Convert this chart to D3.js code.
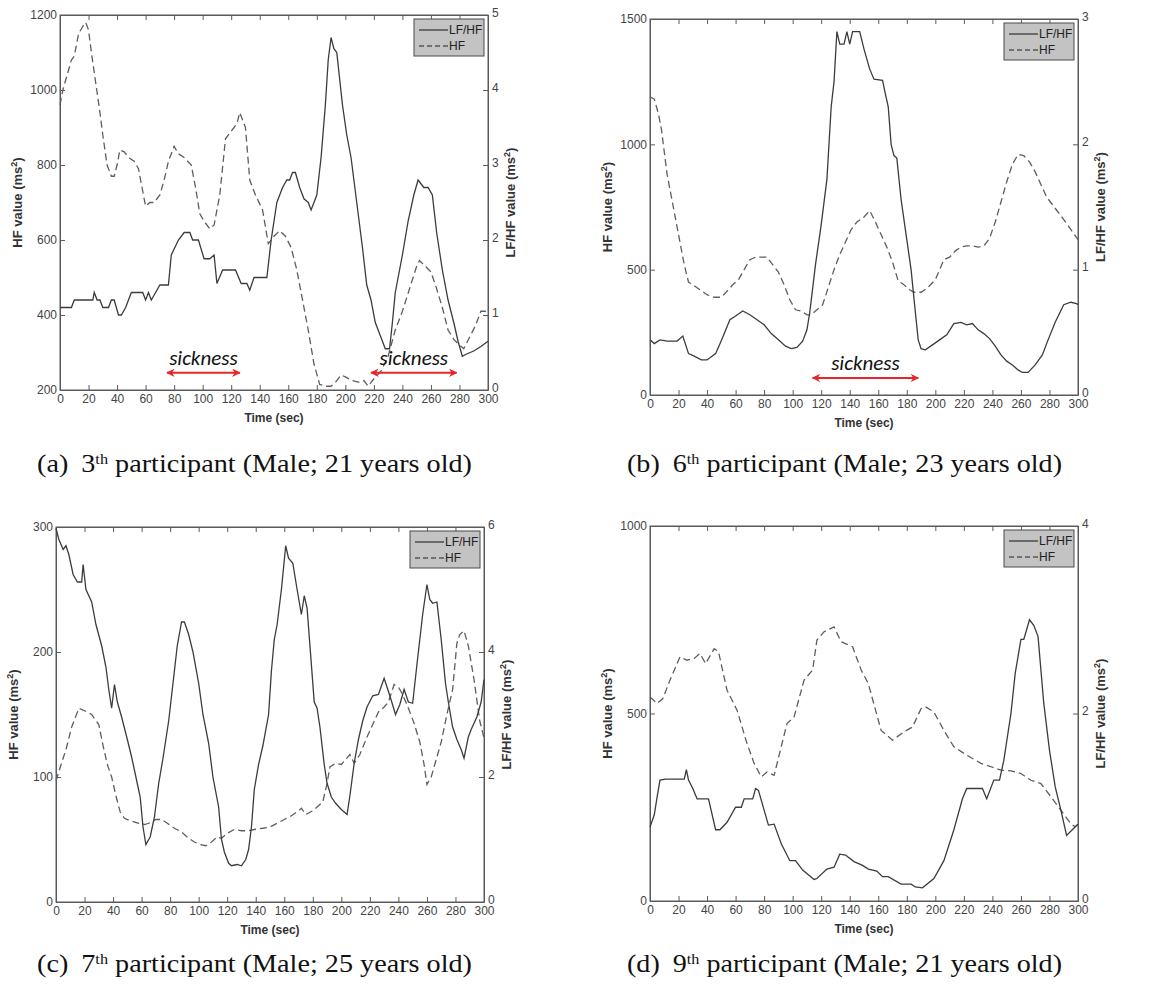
<!DOCTYPE html>
<html>
<head>
<meta charset="utf-8">
<script src="https://cdn.jsdelivr.net/npm/d3@7"></script>
<style>
  body { margin: 0; background: #fff; }
  svg { display: block; }
</style>
</head>
<body>
<div id="chart"></div>
<script>
// ---- data: [time (sec), value] ----
var timeTicks = [0, 20, 40, 60, 80, 100, 120, 140, 160, 180, 200, 220, 240, 260, 280, 300];

// (a) 3th participant
var hfA = [[0,960],[2,1000],[5,1040],[8,1080],[10,1090],[13,1150],[16,1170],[18,1180],[20,1160],[22,1100],[25,1020],[28,940],[30,880],[33,800],[36,770],[38,770],[40,800],[42,840],[45,835],[48,820],[52,810],[55,790],[58,730],[60,690],[63,700],[66,700],[70,720],[73,760],[76,810],[80,850],[83,830],[87,820],[92,800],[95,740],[98,670],[101,650],[105,630],[108,640],[112,720],[116,870],[120,890],[124,910],[126,940],[130,900],[133,760],[137,720],[142,680],[146,590],[150,610],[154,625],[158,610],[162,580],[166,520],[170,440],[174,360],[178,270],[182,215],[186,210],[190,210],[193,220],[197,240],[200,235],[205,225],[210,220],[213,225],[216,210],[220,230],[225,250],[230,290],[235,360],[240,410],[245,470],[250,530],[252,545],[256,530],[260,515],[264,470],[268,420],[272,360],[276,335],[280,320],[283,310],[287,340],[291,370],[295,410],[298,410],[300,405]];
var lfA = [[0,1.1],[8,1.1],[10,1.2],[23,1.2],[24,1.3],[26,1.2],[28,1.2],[30,1.1],[34,1.1],[36,1.2],[38,1.2],[41,1.0],[43,1.0],[46,1.1],[50,1.3],[58,1.3],[60,1.2],[62,1.3],[64,1.2],[67,1.3],[70,1.4],[76,1.4],[78,1.8],[83,2.0],[87,2.1],[91,2.1],[93,2.0],[97,2.0],[101,1.75],[105,1.75],[108,1.8],[110,1.42],[114,1.6],[123,1.6],[127,1.42],[131,1.42],[133,1.33],[136,1.5],[145,1.5],[148,2.0],[152,2.5],[156,2.7],[159,2.8],[161,2.8],[163,2.9],[165,2.9],[168,2.7],[171,2.55],[174,2.5],[176,2.4],[180,2.6],[183,3.1],[186,3.8],[188,4.4],[190,4.7],[192,4.55],[194,4.5],[198,3.8],[201,3.4],[204,3.1],[208,2.5],[212,1.9],[215,1.4],[218,1.2],[221,0.9],[225,0.7],[228,0.55],[231,0.55],[233,0.9],[235,1.3],[240,1.8],[244,2.25],[248,2.6],[251,2.8],[253,2.75],[255,2.7],[258,2.7],[261,2.6],[264,2.1],[268,1.6],[272,1.2],[276,0.9],[279,0.65],[282,0.45],[285,0.48],[290,0.52],[295,0.58],[300,0.65]];
var sicknessA = [[75, 126], [218, 278]];

// (b) 6th participant
var hfB = [[0,1190],[3,1180],[6,1120],[8,1060],[12,880],[16,760],[20,640],[24,520],[27,450],[30,440],[35,420],[40,400],[45,390],[50,390],[55,420],[58,440],[62,460],[66,500],[70,540],[74,550],[78,550],[82,550],[86,520],[90,490],[94,440],[98,380],[102,340],[106,335],[110,320],[113,320],[117,340],[121,360],[125,430],[129,500],[133,560],[137,610],[141,660],[145,690],[150,710],[154,735],[158,690],[162,640],[166,590],[170,530],[174,455],[178,440],[182,420],[185,410],[190,410],[194,425],[200,460],[206,540],[210,550],[214,575],[218,590],[222,595],[226,595],[230,590],[234,595],[238,625],[242,690],[246,770],[250,850],[254,920],[258,960],[262,955],[266,930],[270,890],[274,840],[278,790],[282,760],[286,730],[290,700],[295,660],[300,620]];
var lfB = [[0,0.44],[3,0.41],[7,0.44],[12,0.43],[19,0.43],[23,0.47],[27,0.33],[31,0.31],[36,0.28],[40,0.28],[46,0.33],[51,0.46],[56,0.6],[60,0.63],[65,0.67],[70,0.64],[75,0.6],[80,0.56],[85,0.49],[90,0.44],[95,0.39],[99,0.37],[103,0.38],[107,0.43],[110,0.52],[112,0.66],[116,1.04],[120,1.36],[124,1.72],[127,2.3],[129,2.5],[131,2.9],[133,2.8],[136,2.8],[138,2.9],[140,2.8],[142,2.9],[147,2.9],[150,2.76],[154,2.6],[157,2.52],[163,2.51],[165,2.4],[167,2.3],[169,2.0],[171,1.91],[173,1.89],[176,1.56],[180,1.24],[183,1.0],[186,0.66],[188,0.44],[190,0.37],[193,0.36],[198,0.4],[203,0.44],[208,0.48],[213,0.57],[218,0.58],[222,0.56],[226,0.57],[230,0.52],[234,0.49],[238,0.45],[242,0.39],[246,0.32],[250,0.27],[254,0.24],[258,0.2],[261,0.18],[265,0.18],[270,0.24],[275,0.32],[278,0.41],[284,0.58],[290,0.72],[295,0.74],[299,0.73],[300,0.72]];
var sicknessB = [[114, 188]];

// (c) 7th participant
var hfC = [[0,97],[3,108],[7,122],[11,140],[16,155],[20,153],[25,150],[30,142],[33,125],[36,110],[39,100],[42,85],[45,72],[48,67],[52,65],[58,63],[62,62],[65,63],[70,66],[74,66],[78,63],[83,59],[88,56],[93,51],[97,48],[101,46],[105,45],[109,48],[113,52],[116,51],[120,55],[125,58],[130,57],[135,57],[139,58],[145,59],[150,60],[155,63],[160,66],[165,69],[170,73],[172,75],[175,70],[180,73],[184,77],[187,80],[190,95],[192,108],[196,111],[200,110],[203,114],[206,118],[209,111],[213,118],[218,132],[222,142],[226,152],[230,156],[233,160],[237,174],[240,172],[242,168],[246,158],[251,143],[255,128],[258,110],[260,94],[263,100],[266,112],[270,128],[274,150],[278,170],[281,207],[283,214],[286,217],[289,205],[293,178],[297,145],[300,131]];
var lfC = [[0,5.98],[2,5.8],[5,5.64],[7,5.7],[9,5.56],[12,5.24],[15,5.12],[18,5.12],[19,5.4],[21,5.0],[25,4.8],[28,4.44],[32,4.1],[35,3.76],[37,3.4],[39,3.1],[41,3.48],[43,3.2],[46,2.96],[50,2.6],[53,2.32],[56,2.0],[59,1.68],[61,1.2],[63,0.92],[66,1.04],[69,1.36],[72,1.9],[75,2.3],[79,2.9],[82,3.5],[85,4.1],[88,4.48],[90,4.48],[93,4.28],[96,4.0],[100,3.5],[103,3.0],[107,2.54],[110,2.0],[114,1.52],[116,1.0],[118,0.8],[121,0.62],[123,0.58],[127,0.6],[130,0.58],[133,0.68],[135,0.84],[137,1.2],[139,1.8],[142,2.2],[145,2.5],[149,3.0],[151,3.7],[153,4.2],[155,4.44],[158,5.0],[161,5.7],[163,5.5],[166,5.42],[169,5.0],[172,4.6],[174,4.9],[176,4.7],[178,4.1],[181,3.2],[183,3.1],[185,2.8],[188,2.2],[190,1.9],[193,1.68],[196,1.58],[200,1.48],[204,1.4],[206,1.7],[209,2.22],[212,2.6],[215,2.9],[218,3.12],[222,3.3],[226,3.32],[230,3.58],[234,3.3],[238,3.0],[241,3.16],[244,3.4],[247,3.2],[250,3.18],[253,3.8],[257,4.6],[260,5.08],[262,4.84],[264,4.78],[267,4.8],[270,4.2],[273,3.5],[275,3.2],[278,2.8],[281,2.6],[284,2.44],[286,2.3],[289,2.64],[291,2.76],[295,2.96],[298,3.2],[300,3.56]];

// (d) 9th participant
var hfD = [[0,544],[5,527],[9,540],[14,589],[21,651],[26,642],[31,647],[35,660],[39,633],[45,673],[48,665],[54,562],[61,509],[68,420],[73,367],[78,331],[82,344],[87,335],[96,473],[101,491],[108,589],[114,616],[117,696],[122,718],[129,731],[134,691],[142,678],[148,616],[153,580],[162,455],[170,429],[178,451],[184,464],[190,513],[193,518],[199,504],[206,455],[213,411],[222,389],[232,367],[239,358],[246,349],[253,347],[260,340],[267,322],[274,313],[281,278],[288,242],[295,206],[298,198],[300,205]];
var lfD = [[0,0.79],[3,0.92],[5,1.11],[7,1.29],[11,1.3],[24,1.3],[25.5,1.4],[27,1.29],[30,1.2],[33,1.09],[41,1.09],[46,0.76],[49,0.76],[54,0.84],[60,1.0],[64,1.0],[66,1.09],[72,1.09],[74,1.2],[76,1.18],[80,0.97],[83,0.81],[87,0.82],[92,0.61],[98,0.43],[102,0.43],[107,0.33],[115,0.23],[117,0.24],[124,0.34],[129,0.36],[133,0.5],[137,0.49],[143,0.42],[149,0.38],[153,0.34],[159,0.32],[163,0.26],[167,0.26],[176,0.18],[183,0.18],[186,0.15],[191,0.14],[199,0.24],[206,0.43],[213,0.76],[219,1.09],[222,1.2],[233,1.2],[236,1.09],[241,1.29],[245,1.29],[248,1.5],[253,2.0],[256,2.43],[260,2.79],[262,2.79],[266,3.0],[269,2.94],[272,2.82],[276,2.11],[280,1.61],[284,1.22],[288,0.97],[292,0.7],[296,0.76],[300,0.82]];

var leftTicksA = [200, 400, 600, 800, 1000, 1200], rightTicksA = [0, 1, 2, 3, 4, 5];
var leftTicksB = [0, 500, 1000, 1500], rightTicksB = [0, 1, 2, 3];
var leftTicksC = [0, 100, 200, 300], rightTicksC = [0, 2, 4, 6];
var leftTicksD = [0, 500, 1000], rightTicksD = [0, 2, 4];

var captions = [
  ["(a)", "3", "th", " participant (Male; 21 years old)"],
  ["(b)", "6", "th", " participant (Male; 23 years old)"],
  ["(c)", "7", "th", " participant (Male; 25 years old)"],
  ["(d)", "9", "th", " participant (Male; 21 years old)"]
];

// ---- layout ----
var svg = d3.select("#chart").append("svg")
  .attr("width", 1171).attr("height", 993)
  .style("background", "#fff");

var defs = svg.append("defs");
defs.append("marker")
  .attr("id", "redHead")
  .attr("viewBox", "0 0 10 10")
  .attr("refX", 9).attr("refY", 5)
  .attr("markerWidth", 4.2).attr("markerHeight", 4.2)
  .attr("orient", "auto-start-reverse")
  .append("path")
  .attr("d", "M0,0 L10,5 L0,10 L3,5 z")
  .attr("fill", "#e8262a");

var panels = [
  { x: 60, y: 15, w: 428, h: 375, yl: [200, 1200], yr: [0, 5], lt: leftTicksA, rt: rightTicksA, hf: hfA, lf: lfA, sick: sicknessA, sickY: 246, cap: captions[0], cx: 37, cy: 472 },
  { x: 650, y: 19, w: 428, h: 376, yl: [0, 1500], yr: [0, 3], lt: leftTicksB, rt: rightTicksB, hf: hfB, lf: lfB, sick: sicknessB, sickY: 68, cap: captions[1], cx: 627, cy: 472 },
  { x: 56, y: 527, w: 428, h: 375, yl: [0, 300], yr: [0, 6], lt: leftTicksC, rt: rightTicksC, hf: hfC, lf: lfC, sick: [], sickY: 0, cap: captions[2], cx: 37, cy: 972 },
  { x: 650, y: 526, w: 428, h: 375, yl: [0, 1000], yr: [0, 4], lt: leftTicksD, rt: rightTicksD, hf: hfD, lf: lfD, sick: [], sickY: 0, cap: captions[3], cx: 627, cy: 972 }
];

var axisColor = "#5a5a5a";
var lineColor = "#3c3c3c";
var fmt = d3.format("d");

panels.forEach(drawPanel);

function drawPanel(p) {
  var g = svg.append("g").attr("transform", "translate(" + [p.x, p.y] + ")");

  var x = d3.scaleLinear().domain([0, 300]).range([0, p.w]);
  var yL = d3.scaleLinear().domain(p.yl).range([p.h, 0]);
  var yR = d3.scaleLinear().domain(p.yr).range([p.h, 0]);

  // axes: MATLAB-style inward ticks
  var ax = [
    g.append("g").attr("transform", "translate(0," + p.h + ")")
      .call(d3.axisBottom(x).tickValues(timeTicks).tickFormat(fmt).tickSizeInner(-5).tickSizeOuter(0).tickPadding(4)),
    g.append("g")
      .call(d3.axisTop(x).tickValues(timeTicks).tickSizeInner(-5).tickSizeOuter(0).tickFormat("")),
    g.append("g")
      .call(d3.axisLeft(yL).tickValues(p.lt).tickFormat(fmt).tickSizeInner(-5).tickSizeOuter(0).tickPadding(3)),
    g.append("g").attr("transform", "translate(" + p.w + ",0)")
      .call(d3.axisRight(yR).tickValues(p.rt).tickFormat(fmt).tickSizeInner(-5).tickSizeOuter(0).tickPadding(4))
  ];
  ax.forEach(function (a) {
    a.selectAll("path, line").attr("stroke", axisColor);
    a.selectAll("text")
      .attr("fill", "#444")
      .style("font-family", "'Liberation Sans', Arial, sans-serif")
      .style("font-size", "12px");
  });
  // right axis labels sit a little high, like the original
  ax[3].selectAll("text").attr("dy", "0.1em");
  ax[2].selectAll("text").attr("dy", "0.32em");

  // box
  g.append("rect")
    .attr("width", p.w).attr("height", p.h)
    .attr("fill", "none").attr("stroke", axisColor).attr("stroke-width", 1);

  // series
  var hfLine = d3.line().x(function (d) { return x(d[0]); }).y(function (d) { return yL(d[1]); });
  var lfLine = d3.line().x(function (d) { return x(d[0]); }).y(function (d) { return yR(d[1]); });

  g.append("path").datum(p.hf)
    .attr("d", hfLine)
    .attr("fill", "none").attr("stroke", "#5e5e5e")
    .attr("stroke-width", 1.3).attr("stroke-dasharray", "7,4");

  g.append("path").datum(p.lf)
    .attr("d", lfLine)
    .attr("fill", "none").attr("stroke", lineColor)
    .attr("stroke-width", 1.3);

  // axis titles
  var labelFont = "'Liberation Sans', Arial, sans-serif";
  g.append("text")
    .attr("x", p.w / 2).attr("y", p.h + 32)
    .attr("text-anchor", "middle")
    .style("font-family", labelFont).style("font-size", "12px").style("font-weight", "bold")
    .attr("fill", "#333")
    .text("Time (sec)");

  var yl = g.append("text")
    .attr("transform", "translate(" + (-38) + "," + (p.h / 2) + ") rotate(-90)")
    .attr("text-anchor", "middle")
    .style("font-family", labelFont).style("font-size", "13px").style("font-weight", "bold")
    .attr("fill", "#333");
  yl.append("tspan").text("HF value (ms");
  yl.append("tspan").attr("baseline-shift", "super").style("font-size", "9px").text("2");
  yl.append("tspan").text(")");

  var yr = g.append("text")
    .attr("transform", "translate(" + (p.w + 27) + "," + (p.h / 2) + ") rotate(-90)")
    .attr("text-anchor", "middle")
    .style("font-family", labelFont).style("font-size", "13px").style("font-weight", "bold")
    .attr("fill", "#333");
  yr.append("tspan").text("LF/HF value (ms");
  yr.append("tspan").attr("baseline-shift", "super").style("font-size", "9px").text("2");
  yr.append("tspan").text(")");

  // legend
  var lg = g.append("g").attr("transform", "translate(" + (p.w - 74) + ",4)");
  lg.append("rect").attr("width", 70).attr("height", 37)
    .attr("fill", "#c3c3c3").attr("stroke", "#4a4a4a").attr("stroke-width", 1);
  var items = [["LF/HF", null], ["HF", "5,3"]];
  items.forEach(function (it, i) {
    var yy = 11 + i * 16;
    lg.append("line").attr("x1", 5).attr("x2", 34).attr("y1", yy).attr("y2", yy)
      .attr("stroke", "#222").attr("stroke-width", 1.1)
      .attr("stroke-dasharray", it[1]);
    lg.append("text").attr("x", 35).attr("y", yy).attr("dy", "0.35em")
      .style("font-family", labelFont).style("font-size", "12px")
      .attr("fill", "#222").text(it[0]);
  });

  // sickness arrows
  p.sick.forEach(function (s) {
    var yy = yL(p.sickY);
    g.append("line")
      .attr("x1", x(s[0])).attr("x2", x(s[1]))
      .attr("y1", yy).attr("y2", yy)
      .attr("stroke", "#e8262a").attr("stroke-width", 2)
      .attr("marker-start", "url(#redHead)").attr("marker-end", "url(#redHead)");
    g.append("text")
      .attr("x", x((s[0] + s[1]) / 2)).attr("y", yy - 8)
      .attr("text-anchor", "middle")
      .style("font-family", "Carlito, 'Open Sans', 'Noto Sans', sans-serif")
      .style("font-style", "italic").style("font-size", "21px")
      .attr("fill", "#111")
      .text("sickness");
  });

  // caption
  var cap = svg.append("text")
    .attr("x", p.cx).attr("y", p.cy)
    .attr("textLength", 435).attr("lengthAdjust", "spacingAndGlyphs")
    .style("font-family", "'Liberation Serif', 'Times New Roman', serif")
    .style("font-size", "26px")
    .attr("fill", "#111");
  cap.append("tspan").text(p.cap[0]);
  cap.append("tspan").attr("dx", 12).text(p.cap[1]);
  cap.append("tspan").attr("baseline-shift", "super").style("font-size", "15px").text(p.cap[2]);
  cap.append("tspan").text(p.cap[3]);
}
</script>
</body>
</html>
